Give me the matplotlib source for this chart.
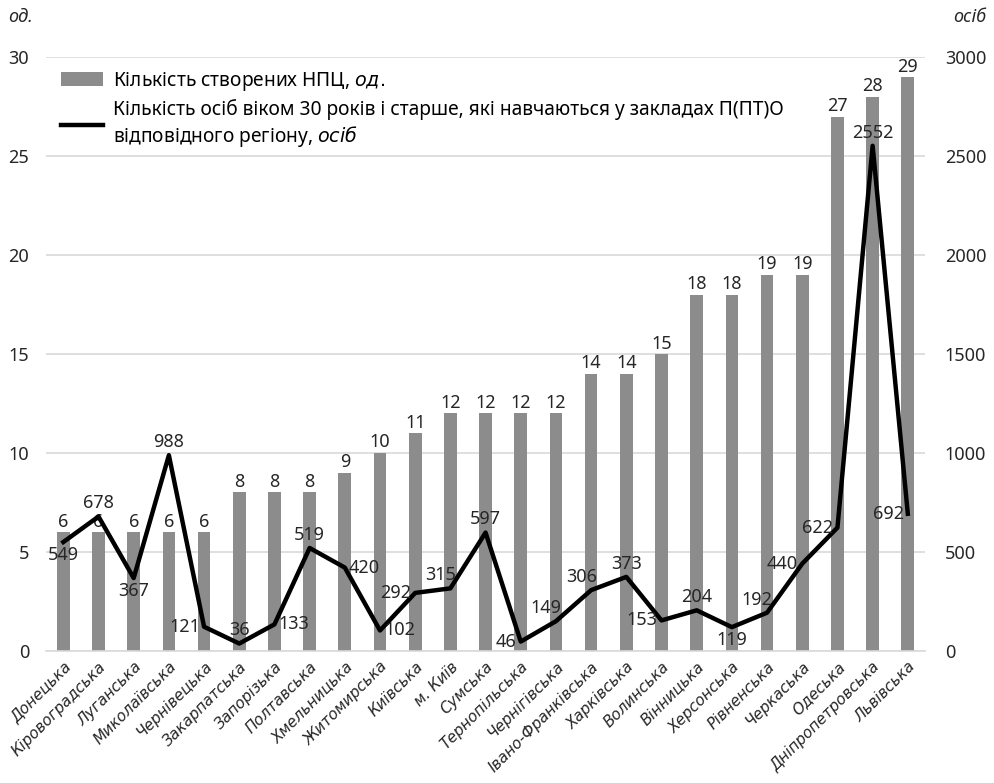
import matplotlib.pyplot as plt
import numpy as np

plt.rcParams['font.family'] = ['Noto Sans', 'DejaVu Sans']

regions = ['Донецька', 'Кіровоградська', 'Луганська', 'Миколаївська', 'Чернівецька',
           'Закарпатська', 'Запорізька', 'Полтавська', 'Хмельницька', 'Житомирська',
           'Київська', 'м. Київ', 'Сумська', 'Тернопільська', 'Чернігівська',
           'Івано-Франківська', 'Харківська', 'Волинська', 'Вінницька', 'Херсонська',
           'Рівненська', 'Черкаська', 'Одеська', 'Дніпропетровська', 'Львівська']
npc_count = [6, 6, 6, 6, 6, 8, 8, 8, 9, 10, 11, 12, 12, 12, 12, 14, 14, 15, 18, 18, 19, 19, 27, 28, 29]
persons_30plus = [549, 678, 367, 988, 121, 36, 133, 519, 420, 102, 292, 315, 597, 46, 149,
                  306, 373, 153, 204, 119, 192, 440, 622, 2552, 692]
# where the line value label sits relative to its point
label_pos = ['below', 'above', 'below', 'above', 'left', 'above', 'right', 'above', 'right', 'right',
             'left', 'aboveleft', 'above', 'left', 'aboveleft', 'aboveleft', 'above', 'left', 'above',
             'below', 'aboveleft', 'left', 'left', 'above', 'left']

bar_color = '#8c8c8c'
grid_color = '#d9d9d9'
text_color = '#262626'

fig = plt.figure(figsize=(9.94, 7.83), dpi=100)
ax = fig.add_axes([0.046, 0.169, 0.885, 0.758])
ax2 = ax.twinx()

x = np.arange(len(regions))
bars = ax.bar(x, npc_count, width=0.36, color=bar_color, zorder=2,
              label='Кількість створених НПЦ, $\\it{од.}$')
for xi, v in zip(x, npc_count):
    ax.annotate(str(v), (xi, v), xytext=(0, 1), textcoords='offset points',
                ha='center', va='bottom', fontsize=13, color=text_color)

line, = ax2.plot(x, persons_30plus, color='black', lw=3.2, zorder=3,
                 label='Кількість осіб віком 30 років і старше, які навчаються у закладах П(ПТ)О\nвідповідного регіону, $\\it{осіб}$')
offsets = {'above': ((0, 3), 'center', 'bottom'),
           'aboveleft': ((-7, 3), 'center', 'bottom'),
           'below': ((0, -3), 'center', 'top'),
           'left': ((-3, 0), 'right', 'center'),
           'right': ((3, 0), 'left', 'center')}
for xi, v, pos in zip(x, persons_30plus, label_pos):
    off, ha, va = offsets[pos]
    ax2.annotate(str(v), (xi, v), xytext=off, textcoords='offset points',
                 ha=ha, va=va, fontsize=13, color=text_color, zorder=4)

ax.set_xlim(-0.5, len(regions) - 0.5)
ax.set_ylim(0, 30)
ax2.set_ylim(0, 3000)
ax.set_yticks(range(0, 31, 5))
ax2.set_yticks(range(0, 3001, 500))
ax.yaxis.grid(True, color=grid_color, lw=1.2, zorder=0)
ax.set_axisbelow(True)

for a in (ax, ax2):
    for s in a.spines.values():
        s.set_visible(False)
    a.tick_params(length=0, labelsize=13, colors=text_color)
ax.spines['bottom'].set_visible(True)
ax.spines['bottom'].set_color(grid_color)
ax.spines['bottom'].set_linewidth(1.2)
ax.tick_params(axis='y', pad=12)
ax2.tick_params(axis='y', pad=14)

ax.set_xticks(x)
ax.set_xticklabels(regions, rotation=45, ha='right', rotation_mode='anchor',
                   fontsize=11, style='oblique', family='DejaVu Sans')
ax.tick_params(axis='x', pad=6)

fig.text(0.008, 0.978, 'од.', fontsize=13, style='italic', color=text_color, va='center')
fig.text(0.992, 0.978, 'осіб', fontsize=13, style='italic', color=text_color, va='center', ha='right')

ax.legend([bars, line], [bars.get_label(), line.get_label()], loc='upper left',
          bbox_to_anchor=(0.0, 1.005), frameon=False, fontsize=13.8,
          handlelength=2.2, handletextpad=0.5, labelspacing=0.35, borderaxespad=0.4)

fig.savefig('out.png', dpi=100)
